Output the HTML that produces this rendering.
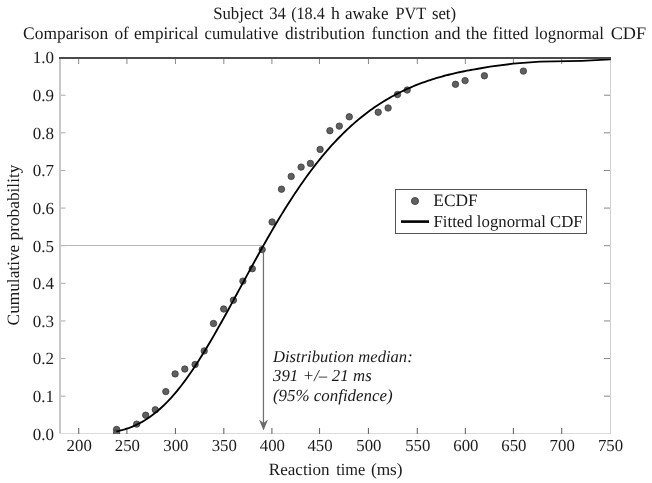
<!DOCTYPE html>
<html><head><meta charset="utf-8"><style>
html,body{margin:0;padding:0;background:#fff;}
svg{display:block;filter:blur(0.25px);}
text{font-family:"Liberation Serif", serif;fill:#1a1a1a;text-rendering:geometricPrecision;}
</style></head><body>
<svg width="652" height="483" viewBox="0 0 652 483">
<rect width="652" height="483" fill="#fff"/>
<defs><clipPath id="pa"><rect x="59" y="57" width="552" height="377"/></clipPath></defs>

<text y="19" font-size="17.3"><tspan x="213.13" textLength="50.38" lengthAdjust="spacingAndGlyphs">Subject</tspan> <tspan x="269.3" textLength="16.65" lengthAdjust="spacingAndGlyphs">34</tspan> <tspan x="291.2" textLength="33.56" lengthAdjust="spacingAndGlyphs">(18.4</tspan> <tspan x="331.06" textLength="8.9" lengthAdjust="spacingAndGlyphs">h</tspan> <tspan x="344.9" textLength="43.57" lengthAdjust="spacingAndGlyphs">awake</tspan> <tspan x="395.4" textLength="30.58" lengthAdjust="spacingAndGlyphs">PVT</tspan> <tspan x="431.9" textLength="24.23" lengthAdjust="spacingAndGlyphs">set)</tspan></text>
<text y="39" font-size="17.7"><tspan x="23.1" textLength="85.05" lengthAdjust="spacingAndGlyphs">Comparison</tspan> <tspan x="114.4" textLength="14.4" lengthAdjust="spacingAndGlyphs">of</tspan> <tspan x="134.0" textLength="64.62" lengthAdjust="spacingAndGlyphs">empirical</tspan> <tspan x="204.6" textLength="73.76" lengthAdjust="spacingAndGlyphs">cumulative</tspan> <tspan x="284.9" textLength="80.15" lengthAdjust="spacingAndGlyphs">distribution</tspan> <tspan x="371.5" textLength="57.35" lengthAdjust="spacingAndGlyphs">function</tspan> <tspan x="434.4" textLength="26.14" lengthAdjust="spacingAndGlyphs">and</tspan> <tspan x="465.8" textLength="21.45" lengthAdjust="spacingAndGlyphs">the</tspan> <tspan x="492.8" textLength="35.75" lengthAdjust="spacingAndGlyphs">fitted</tspan> <tspan x="534.7" textLength="69.32" lengthAdjust="spacingAndGlyphs">lognormal</tspan> <tspan x="610.7" textLength="35.44" lengthAdjust="spacingAndGlyphs">CDF</tspan></text>
<rect x="59" y="57" width="2" height="377" fill="#c8c8c8"/>
<line x1="59" y1="433.5" x2="611" y2="433.5" stroke="#dcdcdc" stroke-width="1"/>
<line x1="610.5" y1="57" x2="610.5" y2="434" stroke="#d0d0d0" stroke-width="1"/>
<line x1="78.7" y1="428" x2="78.7" y2="434" stroke="#6a6a6a" stroke-width="1.1"/>
<line x1="78.7" y1="59" x2="78.7" y2="64" stroke="#888" stroke-width="1"/>
<line x1="126.9" y1="428" x2="126.9" y2="434" stroke="#6a6a6a" stroke-width="1.1"/>
<line x1="126.9" y1="59" x2="126.9" y2="64" stroke="#888" stroke-width="1"/>
<line x1="175.45" y1="428" x2="175.45" y2="434" stroke="#6a6a6a" stroke-width="1.1"/>
<line x1="175.45" y1="59" x2="175.45" y2="64" stroke="#888" stroke-width="1"/>
<line x1="223.8" y1="428" x2="223.8" y2="434" stroke="#6a6a6a" stroke-width="1.1"/>
<line x1="223.8" y1="59" x2="223.8" y2="64" stroke="#888" stroke-width="1"/>
<line x1="271.9" y1="428" x2="271.9" y2="434" stroke="#6a6a6a" stroke-width="1.1"/>
<line x1="271.9" y1="59" x2="271.9" y2="64" stroke="#888" stroke-width="1"/>
<line x1="319.5" y1="428" x2="319.5" y2="434" stroke="#6a6a6a" stroke-width="1.1"/>
<line x1="319.5" y1="59" x2="319.5" y2="64" stroke="#888" stroke-width="1"/>
<line x1="368.45" y1="428" x2="368.45" y2="434" stroke="#6a6a6a" stroke-width="1.1"/>
<line x1="368.45" y1="59" x2="368.45" y2="64" stroke="#888" stroke-width="1"/>
<line x1="417.3" y1="428" x2="417.3" y2="434" stroke="#6a6a6a" stroke-width="1.1"/>
<line x1="417.3" y1="59" x2="417.3" y2="64" stroke="#888" stroke-width="1"/>
<line x1="465.35" y1="428" x2="465.35" y2="434" stroke="#6a6a6a" stroke-width="1.1"/>
<line x1="465.35" y1="59" x2="465.35" y2="64" stroke="#888" stroke-width="1"/>
<line x1="513.4" y1="428" x2="513.4" y2="434" stroke="#6a6a6a" stroke-width="1.1"/>
<line x1="513.4" y1="59" x2="513.4" y2="64" stroke="#888" stroke-width="1"/>
<line x1="561.7" y1="428" x2="561.7" y2="434" stroke="#6a6a6a" stroke-width="1.1"/>
<line x1="561.7" y1="59" x2="561.7" y2="64" stroke="#888" stroke-width="1"/>
<line x1="61" y1="396.18" x2="65.5" y2="396.18" stroke="#aaa" stroke-width="1"/>
<line x1="604" y1="396.18" x2="610" y2="396.18" stroke="#888" stroke-width="1"/>
<line x1="61" y1="358.56" x2="65.5" y2="358.56" stroke="#aaa" stroke-width="1"/>
<line x1="604" y1="358.56" x2="610" y2="358.56" stroke="#888" stroke-width="1"/>
<line x1="61" y1="320.94" x2="65.5" y2="320.94" stroke="#aaa" stroke-width="1"/>
<line x1="604" y1="320.94" x2="610" y2="320.94" stroke="#888" stroke-width="1"/>
<line x1="61" y1="283.32" x2="65.5" y2="283.32" stroke="#aaa" stroke-width="1"/>
<line x1="604" y1="283.32" x2="610" y2="283.32" stroke="#888" stroke-width="1"/>
<line x1="61" y1="245.7" x2="65.5" y2="245.7" stroke="#aaa" stroke-width="1"/>
<line x1="604" y1="245.7" x2="610" y2="245.7" stroke="#888" stroke-width="1"/>
<line x1="61" y1="208.08" x2="65.5" y2="208.08" stroke="#aaa" stroke-width="1"/>
<line x1="604" y1="208.08" x2="610" y2="208.08" stroke="#888" stroke-width="1"/>
<line x1="61" y1="170.46" x2="65.5" y2="170.46" stroke="#aaa" stroke-width="1"/>
<line x1="604" y1="170.46" x2="610" y2="170.46" stroke="#888" stroke-width="1"/>
<line x1="61" y1="132.84" x2="65.5" y2="132.84" stroke="#aaa" stroke-width="1"/>
<line x1="604" y1="132.84" x2="610" y2="132.84" stroke="#888" stroke-width="1"/>
<line x1="61" y1="95.22" x2="65.5" y2="95.22" stroke="#aaa" stroke-width="1"/>
<line x1="604" y1="95.22" x2="610" y2="95.22" stroke="#888" stroke-width="1"/>
<line x1="61" y1="245.5" x2="262" y2="245.5" stroke="#b8b8b8" stroke-width="1"/>
<text x="79.2" y="451.4" font-size="16.8" text-anchor="middle">200</text>
<text x="127.4" y="451.4" font-size="16.8" text-anchor="middle">250</text>
<text x="175.9" y="451.4" font-size="16.8" text-anchor="middle">300</text>
<text x="224.3" y="451.4" font-size="16.8" text-anchor="middle">350</text>
<text x="272.4" y="451.4" font-size="16.8" text-anchor="middle">400</text>
<text x="320.0" y="451.4" font-size="16.8" text-anchor="middle">450</text>
<text x="368.9" y="451.4" font-size="16.8" text-anchor="middle">500</text>
<text x="417.8" y="451.4" font-size="16.8" text-anchor="middle">550</text>
<text x="465.9" y="451.4" font-size="16.8" text-anchor="middle">600</text>
<text x="513.9" y="451.4" font-size="16.8" text-anchor="middle">650</text>
<text x="562.2" y="451.4" font-size="16.8" text-anchor="middle">700</text>
<text x="610.5" y="451.4" font-size="16.8" text-anchor="middle">750</text>
<text x="53.9" y="439.6" font-size="17" text-anchor="end">0.0</text>
<text x="53.9" y="402.0" font-size="17" text-anchor="end">0.1</text>
<text x="53.9" y="364.4" font-size="17" text-anchor="end">0.2</text>
<text x="53.9" y="326.7" font-size="17" text-anchor="end">0.3</text>
<text x="53.9" y="289.1" font-size="17" text-anchor="end">0.4</text>
<text x="53.9" y="251.5" font-size="17" text-anchor="end">0.5</text>
<text x="53.9" y="213.9" font-size="17" text-anchor="end">0.6</text>
<text x="53.9" y="176.3" font-size="17" text-anchor="end">0.7</text>
<text x="53.9" y="138.6" font-size="17" text-anchor="end">0.8</text>
<text x="53.9" y="101.0" font-size="17" text-anchor="end">0.9</text>
<text x="53.9" y="63.4" font-size="17" text-anchor="end">1.0</text>
<text y="474.6" font-size="17.2"><tspan x="268.8" textLength="60.7" lengthAdjust="spacingAndGlyphs">Reaction</tspan> <tspan x="336.3" textLength="29.05" lengthAdjust="spacingAndGlyphs">time</tspan> <tspan x="370.9" textLength="31.73" lengthAdjust="spacingAndGlyphs">(ms)</tspan></text>
<text transform="translate(18.6,245) rotate(-90)" x="0" y="0" font-size="17.3" text-anchor="middle">Cumulative probability</text>
<line x1="263.45" y1="253" x2="263.45" y2="424" stroke="#707070" stroke-width="1.25"/>
<path d="M259,419.5 L263.5,430.5 L268,419.5 L263.5,423 Z" fill="#6a6a6a"/>
<g clip-path="url(#pa)">
<circle cx="116.6" cy="429.5" r="3.2" fill="#606060" stroke="#3a3a3a" stroke-width="0.8"/>
<circle cx="116.6" cy="433.0" r="3.2" fill="#606060" stroke="#3a3a3a" stroke-width="0.8"/>
<circle cx="136.7" cy="424.1" r="3.2" fill="#606060" stroke="#3a3a3a" stroke-width="0.8"/>
<circle cx="145.7" cy="415.2" r="3.2" fill="#606060" stroke="#3a3a3a" stroke-width="0.8"/>
<circle cx="155.3" cy="409.8" r="3.2" fill="#606060" stroke="#3a3a3a" stroke-width="0.8"/>
<circle cx="165.8" cy="391.6" r="3.2" fill="#606060" stroke="#3a3a3a" stroke-width="0.8"/>
<circle cx="175.1" cy="373.9" r="3.2" fill="#606060" stroke="#3a3a3a" stroke-width="0.8"/>
<circle cx="184.8" cy="369.0" r="3.2" fill="#606060" stroke="#3a3a3a" stroke-width="0.8"/>
<circle cx="195.1" cy="364.5" r="3.2" fill="#606060" stroke="#3a3a3a" stroke-width="0.8"/>
<circle cx="204.2" cy="350.9" r="3.2" fill="#606060" stroke="#3a3a3a" stroke-width="0.8"/>
<circle cx="213.5" cy="323.5" r="3.2" fill="#606060" stroke="#3a3a3a" stroke-width="0.8"/>
<circle cx="223.7" cy="309.0" r="3.2" fill="#606060" stroke="#3a3a3a" stroke-width="0.8"/>
<circle cx="233.4" cy="300.2" r="3.2" fill="#606060" stroke="#3a3a3a" stroke-width="0.8"/>
<circle cx="242.9" cy="281.1" r="3.2" fill="#606060" stroke="#3a3a3a" stroke-width="0.8"/>
<circle cx="252.3" cy="268.7" r="3.2" fill="#606060" stroke="#3a3a3a" stroke-width="0.8"/>
<circle cx="262.2" cy="249.6" r="3.2" fill="#606060" stroke="#3a3a3a" stroke-width="0.8"/>
<circle cx="272.1" cy="222.0" r="3.2" fill="#606060" stroke="#3a3a3a" stroke-width="0.8"/>
<circle cx="281.5" cy="189.2" r="3.2" fill="#606060" stroke="#3a3a3a" stroke-width="0.8"/>
<circle cx="291.2" cy="176.4" r="3.2" fill="#606060" stroke="#3a3a3a" stroke-width="0.8"/>
<circle cx="301.1" cy="167.1" r="3.2" fill="#606060" stroke="#3a3a3a" stroke-width="0.8"/>
<circle cx="310.4" cy="163.4" r="3.2" fill="#606060" stroke="#3a3a3a" stroke-width="0.8"/>
<circle cx="320.1" cy="149.4" r="3.2" fill="#606060" stroke="#3a3a3a" stroke-width="0.8"/>
<circle cx="329.9" cy="130.7" r="3.2" fill="#606060" stroke="#3a3a3a" stroke-width="0.8"/>
<circle cx="339.3" cy="126.1" r="3.2" fill="#606060" stroke="#3a3a3a" stroke-width="0.8"/>
<circle cx="349.3" cy="116.8" r="3.2" fill="#606060" stroke="#3a3a3a" stroke-width="0.8"/>
<circle cx="378.2" cy="112.2" r="3.2" fill="#606060" stroke="#3a3a3a" stroke-width="0.8"/>
<circle cx="388.1" cy="108.0" r="3.2" fill="#606060" stroke="#3a3a3a" stroke-width="0.8"/>
<circle cx="397.5" cy="94.5" r="3.2" fill="#606060" stroke="#3a3a3a" stroke-width="0.8"/>
<circle cx="407.2" cy="90.0" r="3.2" fill="#606060" stroke="#3a3a3a" stroke-width="0.8"/>
<circle cx="455.5" cy="84.3" r="3.2" fill="#606060" stroke="#3a3a3a" stroke-width="0.8"/>
<circle cx="465.1" cy="80.6" r="3.2" fill="#606060" stroke="#3a3a3a" stroke-width="0.8"/>
<circle cx="484.4" cy="75.8" r="3.2" fill="#606060" stroke="#3a3a3a" stroke-width="0.8"/>
<circle cx="523.4" cy="71.1" r="3.2" fill="#606060" stroke="#3a3a3a" stroke-width="0.8"/>
</g>
<path d="M116.97,431.33 L118.91,430.89 L120.84,430.40 L122.77,429.88 L124.71,429.31 L126.64,428.69 L128.57,428.03 L130.51,427.31 L132.44,426.54 L134.37,425.72 L136.31,424.84 L138.24,423.90 L140.18,422.90 L142.11,421.84 L144.04,420.72 L145.98,419.53 L147.91,418.27 L149.84,416.95 L151.78,415.56 L153.71,414.10 L155.64,412.57 L157.58,410.97 L159.51,409.30 L161.44,407.56 L163.38,405.74 L165.31,403.85 L167.25,401.90 L169.18,399.87 L171.11,397.76 L173.05,395.59 L174.98,393.35 L176.91,391.04 L178.85,388.66 L180.78,386.21 L182.71,383.70 L184.65,381.12 L186.58,378.48 L188.52,375.77 L190.45,373.01 L192.38,370.19 L194.32,367.31 L196.25,364.37 L198.18,361.39 L200.12,358.35 L202.05,355.26 L203.98,352.13 L205.92,348.95 L207.85,345.73 L209.78,342.47 L211.72,339.17 L213.65,335.84 L215.59,332.47 L217.52,329.08 L219.45,325.65 L221.39,322.20 L223.32,318.73 L225.25,315.24 L227.19,311.73 L229.12,308.20 L231.05,304.66 L232.99,301.11 L234.92,297.55 L236.86,293.99 L238.79,290.42 L240.72,286.85 L242.66,283.27 L244.59,279.71 L246.52,276.14 L248.46,272.59 L250.39,269.04 L252.32,265.50 L254.26,261.98 L256.19,258.47 L258.12,254.97 L260.06,251.50 L261.99,248.04 L263.93,244.60 L265.86,241.19 L267.79,237.80 L269.73,234.44 L271.66,231.10 L273.59,227.79 L275.53,224.51 L277.46,221.26 L279.39,218.05 L281.33,214.86 L283.26,211.71 L285.20,208.59 L287.13,205.51 L289.06,202.47 L291.00,199.46 L292.93,196.49 L294.86,193.55 L296.80,190.66 L298.73,187.80 L300.66,184.99 L302.60,182.21 L304.53,179.47 L306.46,176.78 L308.40,174.12 L310.33,171.51 L312.27,168.94 L314.20,166.40 L316.13,163.91 L318.07,161.46 L320.00,159.06 L321.93,156.69 L323.87,154.37 L325.80,152.08 L327.73,149.84 L329.67,147.64 L331.60,145.48 L333.54,143.36 L335.47,141.28 L337.40,139.24 L339.34,137.24 L341.27,135.28 L343.20,133.36 L345.14,131.47 L347.07,129.63 L349.00,127.82 L350.94,126.05 L352.87,124.32 L354.80,122.63 L356.74,120.97 L358.67,119.35 L360.61,117.76 L362.54,116.21 L364.47,114.69 L366.41,113.21 L368.34,111.76 L370.27,110.34 L372.21,108.96 L374.14,107.60 L376.07,106.28 L378.01,104.99 L379.94,103.73 L381.88,102.50 L383.81,101.30 L385.74,100.13 L387.68,98.99 L389.61,97.88 L391.54,96.79 L393.48,95.73 L395.41,94.69 L397.34,93.69 L399.28,92.70 L401.21,91.74 L403.14,90.81 L405.08,89.90 L407.01,89.01 L408.95,88.15 L410.88,87.31 L412.81,86.49 L414.75,85.69 L416.68,84.92 L418.61,84.16 L420.55,83.42 L422.48,82.71 L424.41,82.01 L426.35,81.33 L428.28,80.67 L430.22,80.03 L432.15,79.40 L434.08,78.80 L436.02,78.20 L437.95,77.63 L439.88,77.07 L441.82,76.53 L443.75,76.00 L445.68,75.48 L447.62,74.98 L449.55,74.50 L451.48,74.03 L453.42,73.57 L455.35,73.12 L457.29,72.69 L459.22,72.27 L461.15,71.86 L463.09,71.47 L465.02,71.08 L466.95,70.71 L468.89,70.34 L470.82,69.99 L472.75,69.65 L474.69,69.32 L476.62,68.99 L490.00,66.70 L513.00,63.70 L540.00,61.70 L554.00,61.30 L568.00,61.10 L582.00,60.80 L596.00,60.20 L610.00,59.40" fill="none" stroke="#000" stroke-width="1.85" stroke-linejoin="round" stroke-linecap="round"/>
<rect x="59" y="57" width="552" height="2" fill="#4a4a4a"/>
<rect x="395.5" y="189.5" width="191" height="44" fill="#fff" stroke="#555" stroke-width="1"/>
<circle cx="415" cy="201" r="3.6" fill="#606060" stroke="#3a3a3a" stroke-width="0.8"/>
<line x1="401" y1="221.6" x2="429" y2="221.6" stroke="#000" stroke-width="2.6"/>
<text x="433.3" y="205.6" font-size="17.4">ECDF</text>
<text x="433.5" y="226.7" font-size="16.8">Fitted lognormal CDF</text>
<text x="273" y="361.8" font-size="16.6" font-style="italic">Distribution median:</text>
<text x="273" y="381" font-size="16.8" font-style="italic" word-spacing="0.4">391 +/– 21 ms</text>
<text x="273" y="400.5" font-size="16.9" font-style="italic">(95% confidence)</text>
</svg></body></html>
